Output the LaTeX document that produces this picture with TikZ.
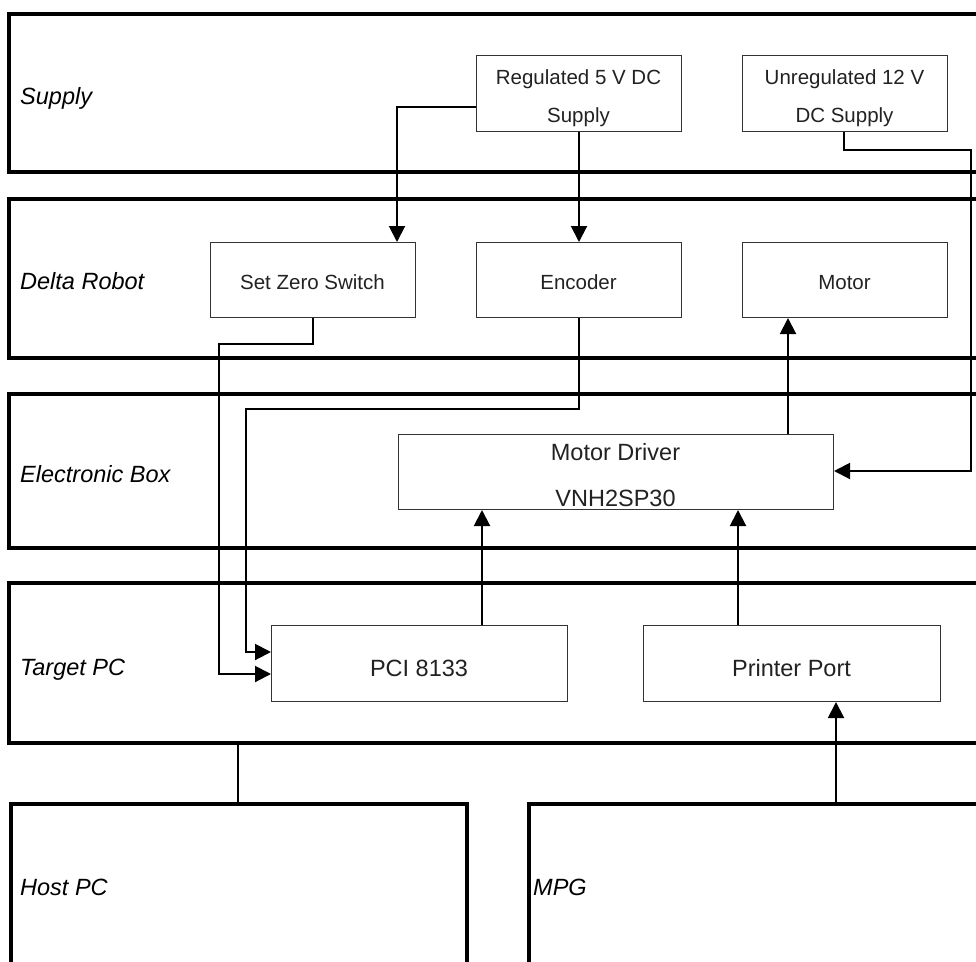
\documentclass[tikz,border=0pt]{standalone}
\usepackage{fontspec}
\setmainfont{Liberation Sans}
\usetikzlibrary{arrows.meta}
\definecolor{txt}{HTML}{222222}
\definecolor{thin}{HTML}{333333}
\begin{document}
\begin{tikzpicture}[x=1pt,y=-1pt,
  panel/.style={draw=black,line width=4pt},
  unitbox/.style={draw=thin,line width=1pt,rectangle,inner sep=0pt,anchor=north west},
  plabel/.style={anchor=base west,inner sep=0pt,font=\fontsize{23.5}{28}\selectfont\itshape},
  stxt/.style={anchor=base,inner sep=0pt,text=txt,font=\fontsize{20.5}{24}\selectfont},
  btxt/.style={anchor=base,inner sep=0pt,text=txt,font=\fontsize{23.5}{28}\selectfont},
  conn/.style={draw=black,line width=2pt,-{Triangle[length=16pt,width=16pt]}},
  plain/.style={draw=black,line width=2pt},
  link/.style={draw=black,line width=1.3pt}]
\clip (0,0) rectangle (976,961);
\fill[white] (0,0) rectangle (976,961);
% panels
\draw[panel] (9,14) rectangle (1000,172);
\draw[panel] (9,199) rectangle (1000,358);
\draw[panel] (9,394) rectangle (1000,548);
\draw[panel] (9,583) rectangle (1000,743);
\draw[panel] (11,804) rectangle (467,1000);
\draw[panel] (529,804) rectangle (1000,1000);
\node[plabel] (lsup) at (20,104) {Supply};
\node[plabel] (ldel) at (20,289) {Delta Robot};
\node[plabel] (lele) at (20,482) {Electronic Box};
\node[plabel] (ltar) at (20,675) {Target PC};
\node[plabel] (lhost) at (20,895) {Host PC};
\node[plabel] (lmpg) at (533,895) {MPG};
% unit boxes
\node[unitbox,minimum width=205pt,minimum height=76pt] (reg) at (476,55) {};
\node[unitbox,minimum width=205pt,minimum height=76pt] (unreg) at (742,55) {};
\node[unitbox,minimum width=205pt,minimum height=75pt] (szs) at (210,242) {};
\node[unitbox,minimum width=205pt,minimum height=75pt] (enc) at (476,242) {};
\node[unitbox,minimum width=205pt,minimum height=75pt] (mot) at (742,242) {};
\node[unitbox,minimum width=435pt,minimum height=75pt] (drv) at (398,434) {};
\node[unitbox,minimum width=296pt,minimum height=76pt] (pci) at (271,625) {};
\node[unitbox,minimum width=297pt,minimum height=76pt] (prn) at (643,625) {};
% texts
\node[stxt] (treg1) at (578.5,84) {Regulated 5 V DC};
\node[stxt] (treg2) at (578.5,122) {Supply};
\node[stxt] (tun1) at (844.5,84) {Unregulated 12 V};
\node[stxt] (tun2) at (844.5,122) {DC Supply};
\node[stxt] (tszs) at (312.5,289) {Set Zero Switch};
\node[stxt] (tenc) at (578.5,289) {Encoder};
\node[stxt] (tmot) at (844.5,289) {Motor};
\node[btxt] (tdrv1) at (615.5,460) {Motor Driver};
\node[btxt] (tdrv2) at (615.5,506) {VNH2SP30};
\node[btxt] (tpci) at (419,676) {PCI 8133};
\node[btxt] (tprn) at (791.5,676) {Printer Port};
% connectors
\coordinate (c1) at (397,107);
\draw[conn] (reg.west |- c1) -| (szs.north -| c1);
\draw[conn] (reg.south -| 579,0) -- (enc.north -| 579,0);
\coordinate (c2) at (844,150);
\coordinate (c3) at (971,471);
\draw[conn] (unreg.south -| c2) -- (c2) -| (c3) -- (drv.east |- c3);
\draw[conn] (drv.north -| 788,0) -- (mot.south -| 788,0);
\coordinate (c4) at (313,344);
\coordinate (c5) at (219,674);
\draw[conn] (szs.south -| c4) -- (c4) -| (c5) -- (pci.west |- c5);
\coordinate (c6) at (579,409);
\coordinate (c7) at (246,652);
\draw[conn] (enc.south -| c6) -- (c6) -| (c7) -- (pci.west |- c7);
\draw[conn] (pci.north -| 482,0) -- (drv.south -| 482,0);
\draw[conn] (prn.north -| 738,0) -- (drv.south -| 738,0);
\coordinate (c8) at (836,804);
\draw[conn] (c8) -- (prn.south -| c8);
\coordinate (c9) at (238,743);
\coordinate (c10) at (238,804);
\draw[link] (c9) -- (c10);
\end{tikzpicture}
\end{document}
